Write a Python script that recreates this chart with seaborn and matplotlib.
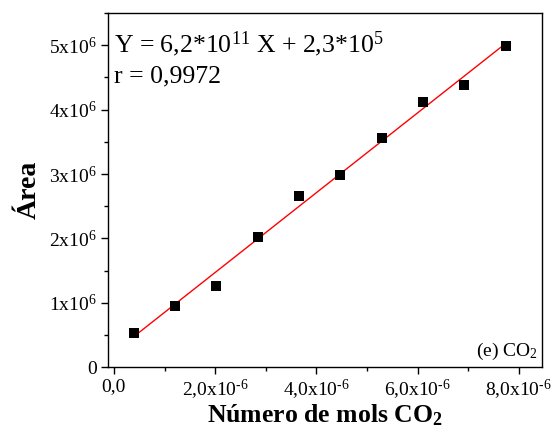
import numpy as np
import pandas as pd
import matplotlib
matplotlib.use("Agg")
import matplotlib.pyplot as plt
import seaborn as sns
from matplotlib.ticker import MultipleLocator, FixedLocator

# Calibration data: moles of CO2 injected vs. chromatographic peak area
mols_co2 = [0.39e-6, 1.21e-6, 2.02e-6, 2.84e-6, 3.66e-6, 4.47e-6, 5.29e-6, 6.11e-6, 6.92e-6, 7.74e-6]
area = [0.533e6, 0.952e6, 1.258e6, 2.023e6, 2.660e6, 2.992e6, 3.567e6, 4.115e6, 4.380e6, 4.995e6]

# Linear fit parameters
slope = 6.2e11
intercept = 2.3e5
r_value = "0,9972"

x_ticks = [0.0, 2e-6, 4e-6, 6e-6, 8e-6]
x_tick_labels = ["0,0", r"2,0x10$^{\text{-}6}$", r"4,0x10$^{\text{-}6}$",
                 r"6,0x10$^{\text{-}6}$", r"8,0x10$^{\text{-}6}$"]
y_ticks = [0, 1e6, 2e6, 3e6, 4e6, 5e6]
y_tick_labels = ["0", "1x10$^{6}$", "2x10$^{6}$", "3x10$^{6}$", "4x10$^{6}$", "5x10$^{6}$"]

sns.set_style("ticks")
plt.rcParams["font.family"] = ["Liberation Serif", "DejaVu Serif"]
plt.rcParams["mathtext.fontset"] = "custom"
plt.rcParams["mathtext.rm"] = "Liberation Serif"
plt.rcParams["mathtext.it"] = "Liberation Serif:italic"
plt.rcParams["mathtext.bf"] = "Liberation Serif:bold"
plt.rcParams["text.color"] = "black"
plt.rcParams["axes.labelcolor"] = "black"
plt.rcParams["xtick.color"] = "black"
plt.rcParams["ytick.color"] = "black"

df = pd.DataFrame({"mols": mols_co2, "area": area})
fit_x = np.array([mols_co2[0], mols_co2[-1]])
fit_df = pd.DataFrame({"mols": fit_x, "area": slope * fit_x + intercept})

fig = plt.figure(figsize=(5.56, 4.37), dpi=100)
ax = fig.add_axes([0.194, 0.160, 0.781, 0.810])

sns.lineplot(data=fit_df, x="mols", y="area", ax=ax, color="red", linewidth=1.0, zorder=2)
sns.scatterplot(data=df, x="mols", y="area", ax=ax, marker="s", color="black",
                s=42, edgecolor="black", linewidth=0, zorder=3)

ax.set_xlim(-0.12e-6, 8.46e-6)
ax.set_ylim(0, 5.5e6)

ax.xaxis.set_major_locator(FixedLocator(x_ticks))
ax.set_xticklabels(x_tick_labels)
ax.xaxis.set_minor_locator(MultipleLocator(1e-6))
ax.yaxis.set_major_locator(FixedLocator(y_ticks))
ax.set_yticklabels(y_tick_labels)
ax.yaxis.set_minor_locator(MultipleLocator(0.5e6))

ax.tick_params(axis="both", which="major", direction="out", length=5, width=1,
               labelsize=14, colors="black", pad=3)
ax.tick_params(axis="both", which="minor", direction="out", length=3, width=1)

for sp in ax.spines.values():
    sp.set_visible(True)
    sp.set_color("black")
    sp.set_linewidth(1.0)

ax.set_xlabel(r"Número de mols CO$_\mathbf{2}$", fontsize=18.5, fontweight="bold", labelpad=0)
ax.set_ylabel("Área", fontsize=20, fontweight="bold", labelpad=5)

# Fit equation and correlation coefficient
ax.text(0.015, 0.890, "Y = 6,2*10$^{11}$ X + 2,3*10$^{5}$",
        transform=ax.transAxes, ha="left", va="baseline", fontsize=18.5)
ax.text(0.015, 0.805, "r = " + r_value,
        transform=ax.transAxes, ha="left", va="baseline", fontsize=18.5)
ax.text(0.99, 0.015, "(e) CO$_{2}$", transform=ax.transAxes, ha="right", va="bottom",
        fontsize=14)

fig.savefig("out.png", dpi=100)
